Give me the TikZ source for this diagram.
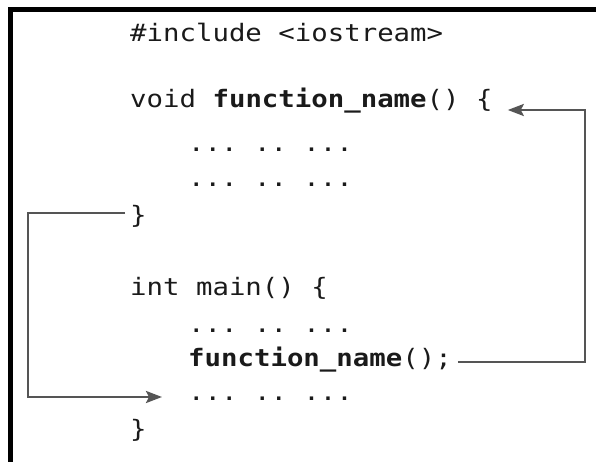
\documentclass[tikz,border=0pt]{standalone}
\usepackage{fontspec}
\setmonofont{DejaVu Sans Mono}[FakeStretch=1.14]
\usetikzlibrary{arrows.meta}
\definecolor{codeink}{HTML}{1A1A1A}
\definecolor{linkgray}{HTML}{555555}

\begin{document}
\begin{tikzpicture}[%
        x=1pt,y=-1pt,%
        code/.style={anchor=base west, inner sep=0pt, text=codeink,%
            font=\ttfamily\fontsize{24}{24}\selectfont},%
        flow/.style={draw=linkgray, line width=2.5pt,%
            -{Stealth[length=16pt,width=12pt,inset=3pt]}},%
        frame/.style={line width=5pt}%
    ]
        \useasboundingbox (0,0) rectangle (596,462);%

        %
        % Cadre
        %
        \draw[frame] (10.5,462) -- (10.5,9.5) -- (596,9.5);%

        %
        % Code
        %
        \node[code] (inc) at (130,42) {\#include <iostream>};%
        \node[code] (voidline) at (130,108) {void \textbf{function\_name}() \{};%
        \node[code] (closeA) at (130,223) {\}};%
        \node[code] (mainline) at (130,295) {int main() \{};%
        \node[code] (call) at (188,366) {\textbf{function\_name}();};%
        \node[code] (closeB) at (130,437) {\}};%

        % Lignes de points
        \foreach \n/\y in {dotsA/152,dotsB/187,dotsC/332,dotsD/400} {%
            \node[code] (\n) at (188,\y) {... .. ...};%
        }%

        %
        % Fleches
        %
        \coordinate (rtop) at (585,110);%
        \coordinate (rbot) at (585,362);%
        \coordinate (ltop) at (28,213);%
        \coordinate (lbot) at (28,397);%

        % Appel vers la fonction
        \draw[flow, shorten <=6pt, shorten >=15pt] (call.east |- rbot)%
        -- (rbot) -- (rtop) -- (voidline.east |- rtop);%

        % Retour apres la fonction
        \draw[flow, shorten <=5pt, shorten >=26pt] (closeA.west |- ltop)%
        -- (ltop) -- (lbot) -- (dotsD.west |- lbot);%
    \end{tikzpicture}
\end{document}
